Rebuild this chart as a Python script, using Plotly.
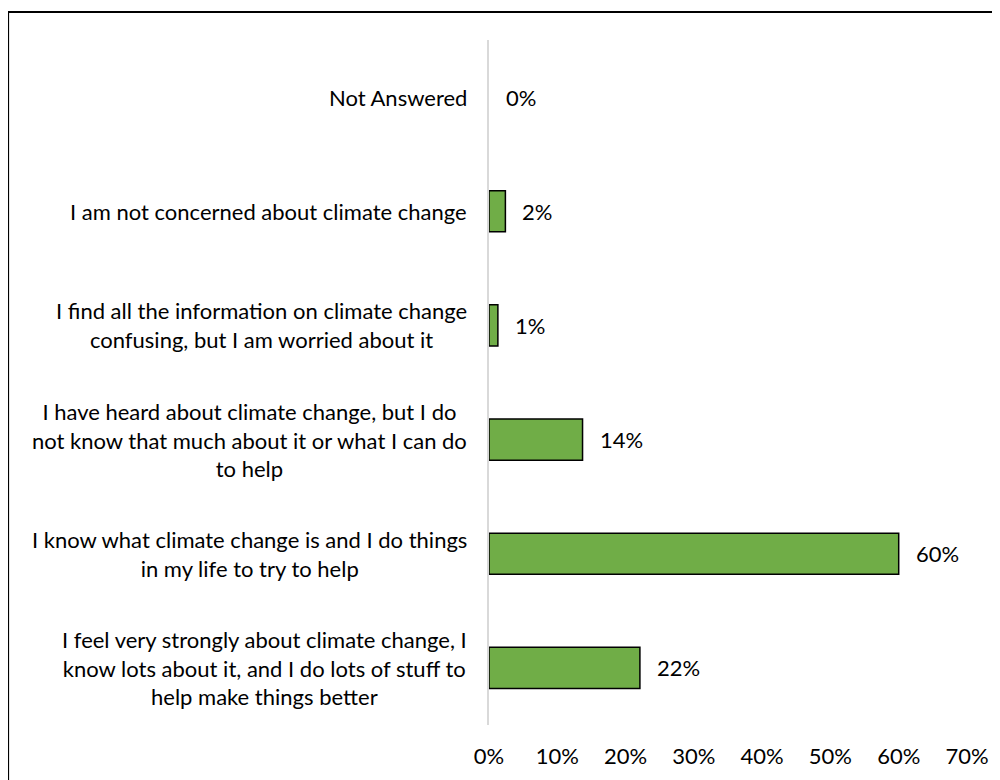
import plotly.graph_objects as go

categories = [
    "Not Answered",
    "I am not concerned about climate change",
    "I find all the information on climate change<br>confusing, but I am worried about it",
    "I have heard about climate change, but I do<br>not know that much about it or what I can do<br>to help",
    "I know what climate change is and I do things<br>in my life to try to help",
    "I feel very strongly about climate change, I<br>know lots about it, and I do lots of stuff to<br>help make things better",
]
values = [0.0, 0.024, 0.013, 0.137, 0.60, 0.221]
value_labels = ["0%", "2%", "1%", "14%", "60%", "22%"]
tick_vals = [0, 0.1, 0.2, 0.3, 0.4, 0.5, 0.6, 0.7]
tick_text = ["0%", "10%", "20%", "30%", "40%", "50%", "60%", "70%"]

FONT = "Lato"
FS = 22

# page has an 8px body margin; compensate
OFF = 8
W, H = 1000 - OFF, 780 - OFF
L, T = 489 - OFF, 40 - OFF
R = W - (967 - OFF)
B = H - (725 - OFF)
pw, ph = W - L - R, H - T - B

fig = go.Figure()
fig.add_trace(go.Bar(
    x=values, y=categories, orientation="h",
    marker=dict(color="#70AD47",
                line=dict(color="#000000", width=[0 if v == 0 else 1.5 for v in values])),
    width=0.36, hoverinfo="skip",
))

for cat, v, lab in zip(categories, values, value_labels):
    fig.add_annotation(x=v, y=cat, xref="x", yref="y", text=lab, showarrow=False,
                       xanchor="left", xshift=15, font=dict(family=FONT, size=FS, color="#000"))
    fig.add_annotation(x=0, y=cat, xref="paper", yref="y", text=cat, showarrow=False,
                       xanchor="right", align="center", xshift=-20,
                       font=dict(family=FONT, size=FS, color="#000"))

fig.add_shape(type="rect", xref="paper", yref="paper",
              x0=(8 - OFF - L) / pw, x1=(1010 - OFF - L) / pw,
              y0=(H - B - 800) / ph, y1=(H - B - (12 - OFF)) / ph,
              line=dict(color="#000", width=2.2), fillcolor="rgba(0,0,0,0)", layer="below")

fig.update_layout(
    width=W, height=H,
    margin=dict(l=L, r=R, t=T, b=B),
    paper_bgcolor="white", plot_bgcolor="white",
    showlegend=False,
    font=dict(family=FONT, size=FS, color="#000"),
    xaxis=dict(range=[0, 0.7], tickvals=tick_vals, ticktext=tick_text,
               showgrid=False, zeroline=False, showline=False,
               ticks="", ticklabelstandoff=16,
               tickfont=dict(family=FONT, size=FS, color="#000")),
    yaxis=dict(categoryorder="array", categoryarray=categories, autorange="reversed",
               showticklabels=False, showgrid=False, zeroline=False,
               showline=True, linecolor="#D9D9D9", linewidth=1.5, ticks=""),
)

fig.write_html("out.html")
